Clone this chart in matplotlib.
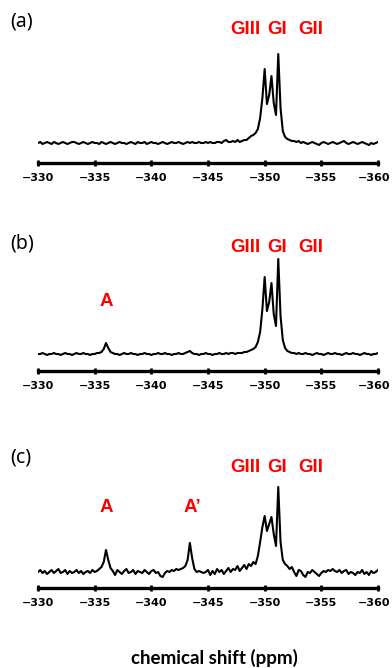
import numpy as np
import matplotlib
matplotlib.use("Agg")
import matplotlib.pyplot as plt
from matplotlib.transforms import ScaledTranslation

#==================================================================================
#     29Si NMR spectra (a), (b), (c) - chemical shift -330 to -360 ppm
#==================================================================================

# chemical shift grid, 0.2 ppm steps from -330 to -360 ppm
shift = np.round(np.arange(-330.0, -360.01, -0.2), 1)

# intensities (a.u., baseline = 0)
spec_a = [
    0, 1, -1, 0, 1, 0, -1, 1, 0, -1,
    0, 1, 0, -1, 0, 1, 1, 0, -1, 0,
    1, 0, -1, 0, 1, 0, 0, -1, 1, 0,
    -1, 0, 1, 0, -1, 0, 1, 0, 0, -1,
    0, 1, 0, -1, 1, 0, 0, 1, -1, 0,
    1, 0, 0, -1, 0, 1, 0, -1, 0, 1,
    0, 0, 1, 0, -1, 0, 1, 0, 1, 0,
    0, 1, 0, 0, 1, 0, 1, 0, 0, 1,
    1, 0, 2, 3, 1, 1, 2, 1, 3, 1,
    2, 3, 3, 5, 7, 8, 10, 14, 25, 45,
    74, 39, 48, 67, 40, 28, 89, 35, 12, 6,
    4, 3, 2, 2, 1, 2, 0, 1, 0, -1,
    0, 1, 0, -1, -2, 0, 1, 0, -1, 0,
    1, 0, -1, 0, 1, 2, 0, -1, 0, 1,
    0, -1, 0, 1, 0, -1, -2, 0, -1, 0, 1,
]

spec_b = [
    0, 0, 1, 0, -1, 0, 0, 1, 0, 0,
    -1, 0, 1, 0, 0, -1, 0, 1, 0, 0,
    1, 0, 0, -1, 0, 0, 1, 1, 2, 5,
    11, 6, 2, 1, 0, 0, -1, 0, 1, 0,
    0, 1, 0, 0, -1, 0, 0, 1, 0, 0,
    -1, 0, 0, 1, 0, 0, 1, 0, 0, -1,
    0, 0, 1, 0, 0, 1, 2, 3, 1, 0,
    0, -1, 0, 0, 1, 0, 0, -1, 0, 0,
    1, 0, 0, 1, 0, 1, 1, 0, 1, 1,
    1, 2, 2, 3, 4, 5, 7, 12, 22, 45,
    77, 43, 52, 71, 40, 28, 95, 38, 14, 6,
    3, 2, 1, 1, 0, 1, 0, 0, 1, 0,
    0, -1, 0, 1, 0, 0, -1, 0, 1, 0,
    0, 1, 0, 0, -1, 0, 1, 0, 0, 1,
    0, 0, -1, 0, 1, 0, 0, -1, 0, 0, 1,
]

spec_c = [
    0, 2, -1, 1, -2, 0, 2, -1, 1, 3,
    -1, 0, 2, -2, 1, -1, 0, 2, -1, 1,
    -2, 0, 1, -1, 2, 0, 1, 3, 5, 10,
    22, 12, 4, 1, -3, 2, 0, -2, 1, 3,
    -1, 0, 2, -2, 1, 0, -1, 2, 0, -2,
    1, 2, -1, 0, -4, -5, -1, 1, 0, 2,
    1, 3, 2, 3, 4, 6, 12, 29, 14, 3,
    0, 1, 0, -1, 0, 2, -3, 1, -2, 3,
    0, 2, -2, 1, 4, 0, 3, 2, 6, 1,
    4, 7, 3, 8, 6, 10, 8, 16, 30, 45,
    56, 41, 48, 55, 38, 26, 85, 30, 12, 8,
    6, 3, 5, 0, -4, 2, 1, -3, -5, 0,
    -1, 2, 0, -2, -4, -1, 1, 0, 2, 1,
    3, 1, 0, 2, -1, 1, 2, -2, 0, -1,
    -3, 0, -1, 2, -2, 0, -3, 1, -1, 0, 2,
]

ticks = [-330, -335, -340, -345, -350, -355, -360]
panel_names = ['(a)', '(b)', '(c)']
site_labels = ['GIII', 'GI', 'GII']

W, H = 392, 668

# panel layout in pixels: axis line y, baseline offset, axes height, label heights
panels = [
    dict(data=spec_a, axis_y=163, off=20, h=123, g_y=113, a_y=None, tag_y=22),
    dict(data=spec_b, axis_y=371, off=17, h=126, g_y=107, a_y=52, tag_y=244),
    dict(data=spec_c, axis_y=588, off=16, h=126, g_y=104, a_y=64, tag_y=458),
]

fig = plt.figure(figsize=(W / 100, H / 100), dpi=100)

red = '#ff0000'
for k, p in enumerate(panels):
    ax = fig.add_axes([38 / W, (H - p['axis_y']) / H, 340 / W, p['h'] / H])
    ax.plot(shift, p['data'], color='black', lw=1.5)
    ax.set_xlim(-330, -360)
    ax.set_ylim(-p['off'], p['h'] - p['off'])
    for s in ['top', 'left', 'right']:
        ax.spines[s].set_visible(False)
    ax.spines['bottom'].set_linewidth(2.4)
    ax.set_yticks([])
    ax.set_xticks(ticks)
    ax.set_xticklabels(['\u2212%d' % abs(t) for t in ticks],
                       fontsize=8, fontweight='bold', family='DejaVu Sans')
    ax.tick_params(axis='x', direction='inout', length=5, width=2, pad=5)
    # last label sits a little to the left in the original
    lbl = ax.get_xticklabels()[-1]
    lbl.set_transform(lbl.get_transform() + ScaledTranslation(-4 / 100, 0, fig.dpi_scale_trans))
    ax.patch.set_visible(False)

    # site labels
    for lab, xp in zip(site_labels, [-348.3, -351.1, -354.1]):
        ax.text(xp, p['g_y'], lab, color=red, fontsize=13.5, fontweight='bold',
                family='Liberation Sans', ha='center', va='center', clip_on=False)
    if p['a_y'] is not None:
        ax.text(-336.0, p['a_y'], 'A', color=red, fontsize=13.5, fontweight='bold',
                family='Liberation Sans', ha='center', va='center')
    if k == 2:
        ax.text(-343.6, p['a_y'], 'A\u2019', color=red, fontsize=13.5, fontweight='bold',
                family='Liberation Sans', ha='center', va='center')

    fig.text(10 / W, (H - p['tag_y']) / H, panel_names[k], fontsize=14,
             family='Noto Sans', ha='left', va='center')

fig.text(214 / W, (H - 658) / H, 'chemical shift (ppm)', fontsize=13.5,
         family='Lato', fontweight='bold', ha='center', va='center')

fig.savefig('out.png', dpi=100)
